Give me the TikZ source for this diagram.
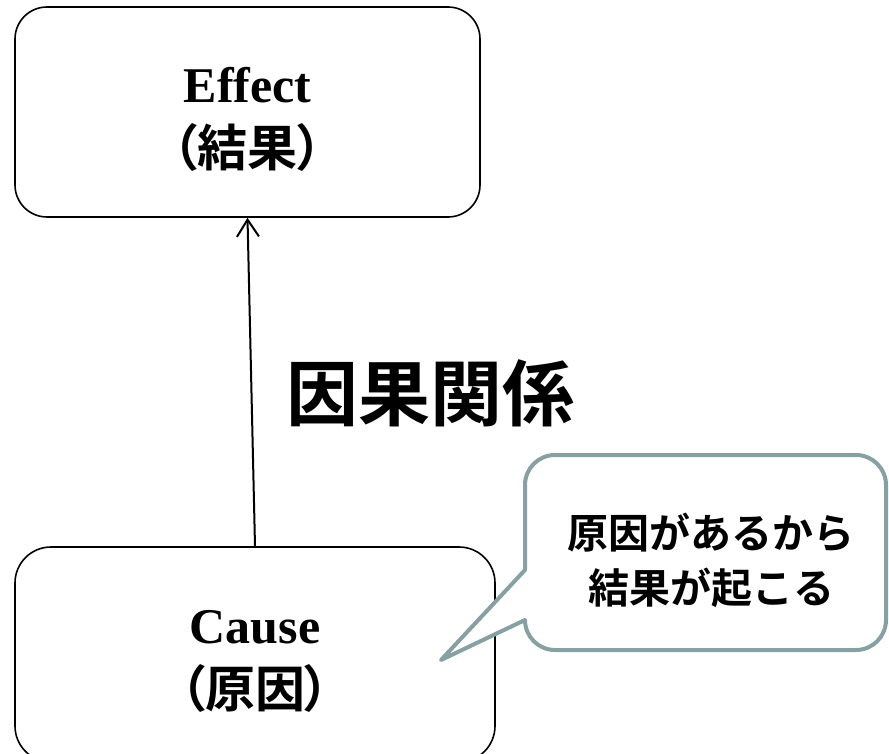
\documentclass[tikz,border=0pt]{standalone}
\usepackage{fontspec}
\setmainfont{Liberation Serif}
\newfontfamily\cjk[BoldFont={Noto Sans CJK JP Bold}]{Noto Sans CJK JP}
\newfontfamily\cjkp[BoldFont={Noto Sans CJK JP Bold},BoldFeatures={RawFeature=+palt},RawFeature=+palt]{Noto Sans CJK JP}
\usetikzlibrary{arrows.meta}
\definecolor{callgray}{HTML}{87A0A2}
\tikzset{
  box/.style={draw=black, line width=1.6pt, rounded corners=32pt, fill=white, inner sep=0pt, align=center},
  boxtext/.style={align=center, inner sep=0pt, font={\fontsize{50}{66}\selectfont\bfseries}},
  arrowline/.style={draw=black, line width=2pt, -{Straight Barb[length=17pt,width=22pt,line width=2pt]}},
  callout/.style={draw=callgray, line width=4pt, line join=round, fill=white},
}
\begin{document}
\begin{tikzpicture}[x=1pt,y=-1pt]
\useasboundingbox (0,0) rectangle (889,754);
\begin{scope}
\clip (0,0) rectangle (889,754);
% boxes
\node[box, minimum width=465pt, minimum height=210pt] (effect) at (247.5,112) {};
\node[box, minimum width=480pt, minimum height=215pt, rounded corners=36pt] (cause) at (255,654.5) {};
% texts
\node[boxtext] (efftxt) at (247.5,119) {Effect\\[-2pt]{\cjkp\bfseries （結果）}};
\node[boxtext] (causetxt) at (255,661) {Cause\\[-2pt]{\cjkp\bfseries （原因）}};
% arrow
\draw[arrowline] (cause.north) -- (effect.south);
% label
\node[boxtext, font={\fontsize{72}{80}\selectfont\cjk\bfseries}] (rel) at (430,393) {因果関係};
% callout
\coordinate (tip) at (441,660);
\draw[callout] (525,570)
  -- (525,485) arc[start angle=180,end angle=270,radius=30]
  -- (856,455) arc[start angle=270,end angle=360,radius=30]
  -- (886,620) arc[start angle=0,end angle=90,radius=30]
  -- (555,650) arc[start angle=90,end angle=180,radius=30]
  -- (tip) -- cycle;
\node[boxtext, font={\fontsize{41}{55}\selectfont\cjk\bfseries}] (note) at (711,560) {原因があるから\\結果が起こる};
\end{scope}
\end{tikzpicture}
\end{document}
